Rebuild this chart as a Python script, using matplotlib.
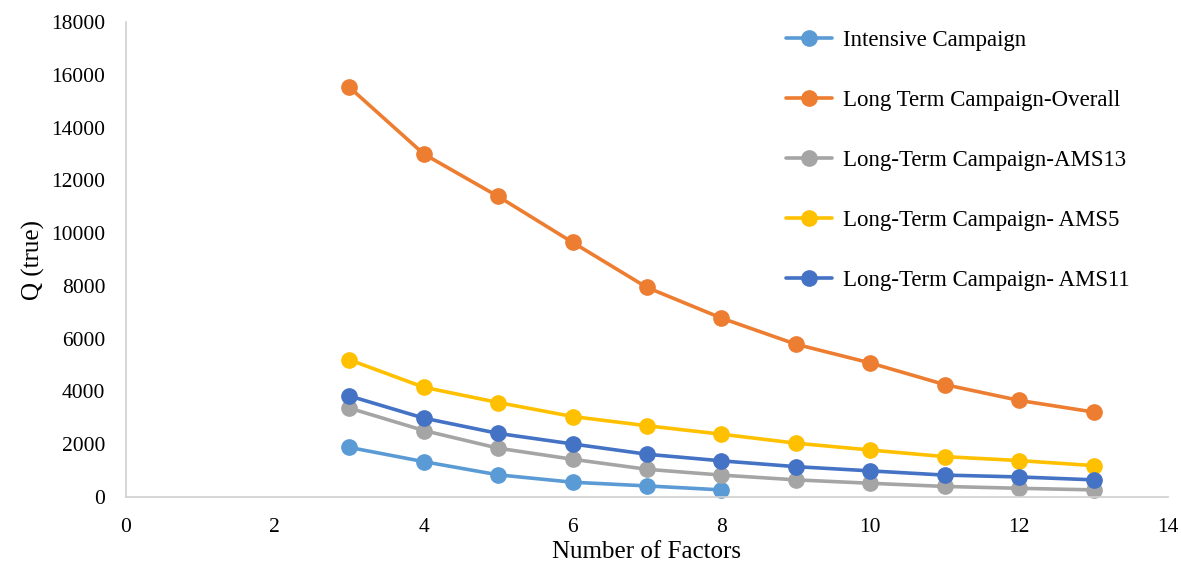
import matplotlib
matplotlib.use("Agg")
import matplotlib.pyplot as plt

factors_intensive = [3, 4, 5, 6, 7, 8]
factors_long = [3, 4, 5, 6, 7, 8, 9, 10, 11, 12, 13]

intensive = [1880, 1340, 840, 560, 420, 270]
overall = [15530, 13000, 11390, 9650, 7940, 6780, 5790, 5080, 4260, 3660, 3220]
ams13 = [3370, 2520, 1850, 1430, 1050, 830, 650, 520, 400, 330, 270]
ams5 = [5200, 4160, 3580, 3050, 2700, 2380, 2040, 1780, 1530, 1380, 1190]
ams11 = [3830, 2990, 2410, 2010, 1620, 1370, 1150, 990, 830, 760, 650]

labels = ["Intensive Campaign", "Long Term Campaign-Overall",
          "Long-Term Campaign-AMS13", "Long-Term Campaign- AMS5",
          "Long-Term Campaign- AMS11"]
colors = ["#5B9BD5", "#ED7D31", "#A5A5A5", "#FFC000", "#4472C4"]

plt.rcParams['font.family'] = ['Liberation Serif', 'DejaVu Serif']

fig = plt.figure(figsize=(11.81, 5.62), dpi=100)
ax = fig.add_axes([126/1181, 1-497/562, (1168-126)/1181, (497-22)/562])

series = [(factors_intensive, intensive), (factors_long, overall),
          (factors_long, ams13), (factors_long, ams5), (factors_long, ams11)]
for (xs, ys), lab, c in zip(series, labels, colors):
    ax.plot(xs, ys, color=c, lw=2.6, marker='o', ms=11, label=lab,
            solid_capstyle='round', clip_on=False)

ax.set_xlim(0, 14)
ax.set_ylim(0, 18000)
ax.set_xticks(range(0, 15, 2))
ax.set_yticks(range(0, 18001, 2000))
ax.tick_params(length=0, labelsize=15.5, colors='#000000')
ax.tick_params(axis='x', pad=15)
ax.tick_params(axis='y', pad=15)
for s in ['top', 'right']:
    ax.spines[s].set_visible(False)
for s in ['left', 'bottom']:
    ax.spines[s].set_color('#D0D0D0')
    ax.spines[s].set_linewidth(1.2)

ax.set_xlabel("Number of Factors", fontsize=18, labelpad=3)
ax.set_ylabel("Q (true)", fontsize=18, labelpad=4)

leg = ax.legend(loc='upper left', bbox_to_anchor=(777/1181, 1-21/562),
                bbox_transform=fig.transFigure, frameon=False, fontsize=16.5,
                labelspacing=1.7, handlelength=2.0, handletextpad=0.5,
                borderaxespad=0)

fig.savefig("out.png", dpi=100)
